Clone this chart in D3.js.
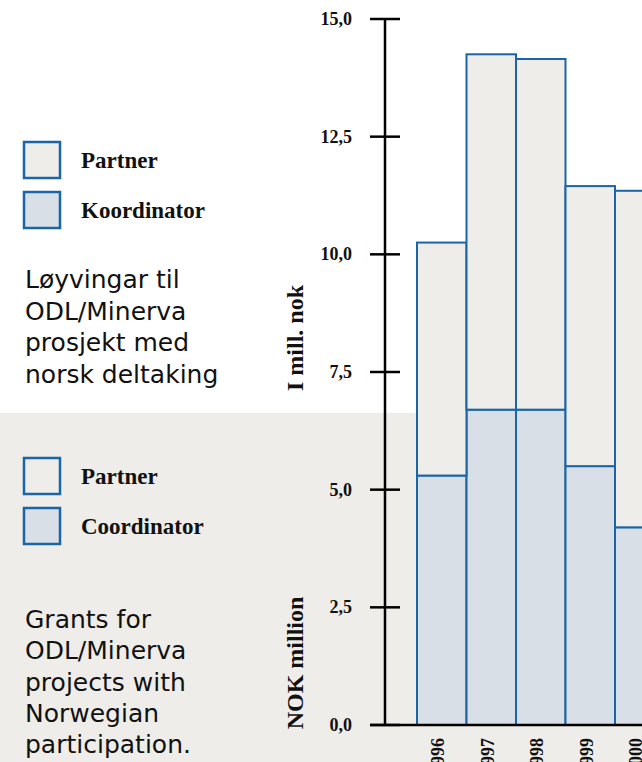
<!DOCTYPE html>
<html>
<head>
<meta charset="utf-8">
<script src="https://cdn.jsdelivr.net/npm/d3@7"></script>
<style>
  body { margin: 0; background: #fff; }
  svg { display: block; }
  .serif { font-family: "Liberation Serif", "Times New Roman", serif; font-weight: bold; fill: #111; }
  .sans { font-family: "DejaVu Sans", "Open Sans", sans-serif; fill: #111; }
</style>
</head>
<body>
<div id="chart"></div>
<script>
// data (NOK million)
const years = ["1996", "1997", "1998", "1999", "2000"];
const koordinator = [5.3, 6.7, 6.7, 5.5, 4.2];
const partner = [4.95, 7.55, 7.45, 5.95, 7.15];
const yTicks = [0, 2.5, 5, 7.5, 10, 12.5, 15];

const textNo = ["Løyvingar til", "ODL/Minerva", "prosjekt med", "norsk deltaking"];
const textEn = ["Grants for", "ODL/Minerva", "projects with", "Norwegian", "participation."];

const W = 642, H = 762;
const blue = "#1b65a6", partnerFill = "#eeede9", koordFill = "#d8dfe6", band = "#eeede9";

const svg = d3.select("#chart").append("svg")
  .attr("width", W)
  .attr("height", H);

// grey lower band behind everything
svg.append("rect")
  .attr("x", 0).attr("y", 413)
  .attr("width", W).attr("height", H - 413)
  .attr("fill", band);

// scales
const y = d3.scaleLinear().domain([0, 15]).range([725, 19]);
const x = d3.scaleBand().domain(years).range([417, 417 + years.length * 49.5]).padding(0);

// stacked bars
const rows = years.map((yr, i) => ({ year: yr, koordinator: koordinator[i], partner: partner[i] }));
const stack = d3.stack().keys(["koordinator", "partner"])(rows);
const fills = { koordinator: koordFill, partner: partnerFill };

svg.append("g").selectAll("g")
  .data(stack)
  .join("g")
  .attr("fill", d => fills[d.key])
  .selectAll("rect")
  .data(d => d)
  .join("rect")
  .attr("x", d => x(d.data.year))
  .attr("y", d => y(d[1]))
  .attr("width", x.bandwidth())
  .attr("height", d => y(d[0]) - y(d[1]))
  .attr("stroke", blue)
  .attr("stroke-width", 2);

// y axis
const axisX = 385;
const yAxisG = svg.append("g").attr("transform", `translate(${axisX},0)`);
yAxisG.append("line")
  .attr("x1", 0).attr("x2", 0)
  .attr("y1", y(15)).attr("y2", y(0))
  .attr("stroke", "#000").attr("stroke-width", 2.5);
yAxisG.selectAll("line.tick")
  .data(yTicks)
  .join("line")
  .attr("class", "tick")
  .attr("x1", -15).attr("x2", 15)
  .attr("y1", d => y(d)).attr("y2", d => y(d))
  .attr("stroke", "#000").attr("stroke-width", 2.5);
yAxisG.selectAll("text")
  .data(yTicks)
  .join("text")
  .attr("class", "serif")
  .attr("x", -33)
  .attr("y", d => y(d) + 6)
  .attr("text-anchor", "end")
  .style("font-size", "18px")
  .text(d => d3.format(".1f")(d).replace(".", ","));

// x axis baseline
svg.append("line")
  .attr("x1", 370).attr("x2", W)
  .attr("y1", y(0)).attr("y2", y(0))
  .attr("stroke", "#000").attr("stroke-width", 2.5);

svg.append("g").selectAll("text")
  .data(years)
  .join("text")
  .attr("class", "serif")
  .attr("transform", d => `translate(${x(d) + x.bandwidth() / 2 - 4},738) rotate(-90)`)
  .attr("text-anchor", "end")
  .attr("dy", "0.35em")
  .style("font-size", "18px")
  .text(d => d);

// axis titles
svg.append("text")
  .attr("class", "serif")
  .attr("transform", "translate(303,338) rotate(-90)")
  .attr("text-anchor", "middle")
  .style("font-size", "24px")
  .text("I mill. nok");
svg.append("text")
  .attr("class", "serif")
  .attr("transform", "translate(303,663) rotate(-90)")
  .attr("text-anchor", "middle")
  .style("font-size", "24px")
  .text("NOK million");

// legends
function legend(items, top) {
  const g = svg.append("g");
  items.forEach((it, i) => {
    g.append("rect")
      .attr("x", 24).attr("y", top + i * 50)
      .attr("width", 36).attr("height", 36)
      .attr("fill", it.fill)
      .attr("stroke", blue)
      .attr("stroke-width", 2.5);
    g.append("text")
      .attr("class", "serif")
      .attr("x", 81).attr("y", top + i * 50 + 26)
      .style("font-size", "23px")
      .text(it.label);
  });
}
legend([{ label: "Partner", fill: partnerFill }, { label: "Koordinator", fill: koordFill }], 142);
legend([{ label: "Partner", fill: band }, { label: "Coordinator", fill: koordFill }], 458);

// descriptive texts
function block(lines, firstBase, step) {
  svg.append("g").selectAll("text")
    .data(lines)
    .join("text")
    .attr("class", "sans")
    .attr("x", 25)
    .attr("y", (d, i) => firstBase + i * step)
    .style("font-size", "25px")
    .text(d => d);
}
block(textNo, 288, 31.7);
block(textEn, 628, 31.3);
</script>
</body>
</html>
